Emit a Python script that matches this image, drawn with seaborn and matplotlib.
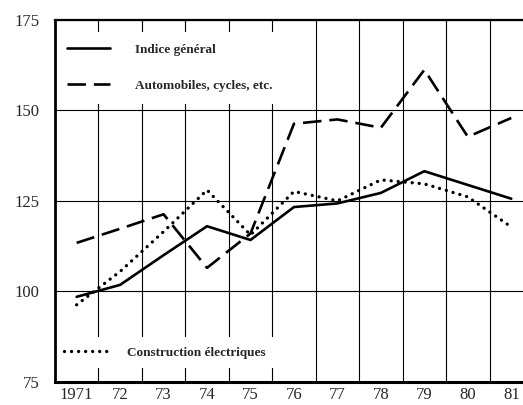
import matplotlib
matplotlib.use("Agg")
import matplotlib.pyplot as plt
import seaborn as sns
import numpy as np
import pandas as pd

# Données (indices, base 100)
years = [1971, 1972, 1973, 1974, 1975, 1976, 1977, 1978, 1979, 1980, 1981]
year_labels = ["1971", "72", "73", "74", "75", "76", "77", "78", "79", "80", "81"]
indice_general = [98.5, 101.8, 110.0, 118.0, 114.2, 123.3, 124.3, 127.2, 133.2, 129.4, 125.6]
automobiles = [113.4, 117.3, 121.3, 106.5, 116.0, 146.3, 147.5, 145.2, 161.2, 142.7, 147.9]
construction_elec = [96.3, 105.5, 116.5, 128.0, 115.6, 127.6, 125.0, 130.8, 129.7, 126.1, 117.8]

y_ticks = [75, 100, 125, 150, 175]

sns.set_style("white")
plt.rcParams["font.family"] = ["Liberation Serif", "DejaVu Serif"]

fig = plt.figure(figsize=(5.23, 4.05), dpi=100)
ax = fig.add_axes([0.105, 0.057, 0.895, 0.894])

df = pd.DataFrame({"annee": years, "general": indice_general,
                   "auto": automobiles, "elec": construction_elec})

sns.lineplot(data=df, x="annee", y="general", ax=ax, color="black", lw=1.9,
             label="Indice général", zorder=3)
sns.lineplot(data=df, x="annee", y="auto", ax=ax, color="black", lw=1.9,
             linestyle=(0, (7, 3.0)), label="Automobiles, cycles, etc.", zorder=3)
sns.lineplot(data=df, x="annee", y="elec", ax=ax, color="black", lw=2.4,
             linestyle=(0, (0.01, 2.1)), dash_capstyle="round",
             label="Construction électriques", zorder=3)

ax.set_xlim(1970.5, 1981.27)
ax.set_ylim(75, 175)
ax.set_xticks(years)
ax.set_xticklabels(year_labels)
ax.set_xticks(np.arange(1971.5, 1981, 1.0), minor=True)
ax.set_yticks(y_ticks)
ax.set_xlabel("")
ax.set_ylabel("")

ax.grid(False)
ax.grid(True, which="minor", axis="x", color="black", lw=0.8)
ax.grid(True, which="major", axis="y", color="black", lw=0.8)
ax.set_axisbelow(True)

ax.tick_params(axis="both", which="both", length=0)
ax.tick_params(axis="y", labelsize=12, pad=11)
ax.tick_params(axis="x", labelsize=12, pad=4)

for side in ["left", "bottom", "top"]:
    ax.spines[side].set_visible(True)
    ax.spines[side].set_color("black")
ax.spines["left"].set_linewidth(2.0)
ax.spines["bottom"].set_linewidth(2.2)
ax.spines["top"].set_linewidth(1.6)
ax.spines["right"].set_visible(False)

lines = ax.get_lines()
if ax.get_legend() is not None:
    ax.get_legend().remove()

legend_font = {"family": "Liberation Serif", "weight": "bold", "size": 9.5}

leg1 = ax.legend(handles=lines[:2], labels=["Indice général", "Automobiles, cycles, etc."],
                 loc="upper left", bbox_to_anchor=(0.0, 0.754, 0.5, 0.213),
                 mode="expand", borderaxespad=0, frameon=True, fancybox=False,
                 facecolor="white", edgecolor="none", framealpha=1,
                 prop=legend_font, handlelength=3.3, handletextpad=1.9,
                 labelspacing=1.8, borderpad=0.9)
leg1.set_zorder(2)
ax.add_artist(leg1)

leg2 = ax.legend(handles=[lines[2]], labels=["Construction électriques"],
                 loc="lower left", bbox_to_anchor=(0.0, 0.039, 0.5, 0.09),
                 mode="expand", borderaxespad=0, frameon=True, fancybox=False,
                 facecolor="white", edgecolor="none", framealpha=1,
                 prop=legend_font, handlelength=3.3, handletextpad=1.5,
                 borderpad=0.7)
leg2.set_zorder(2)

fig.savefig("out.png", dpi=100)
